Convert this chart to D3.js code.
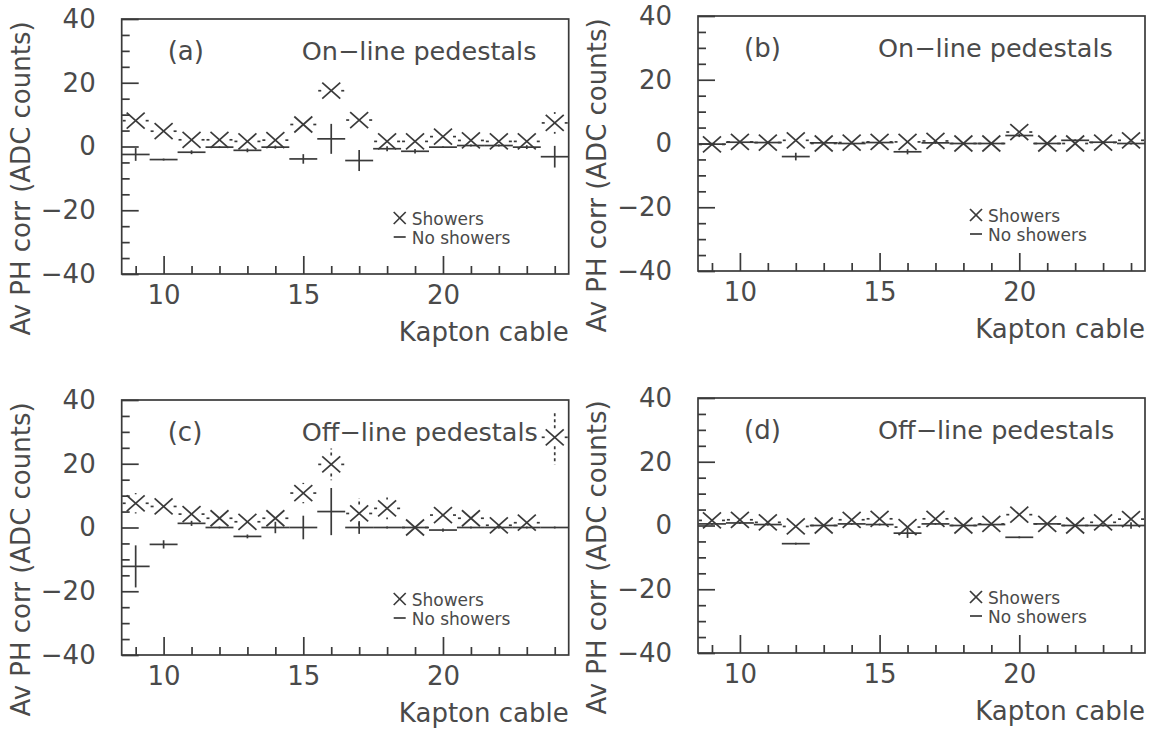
<!DOCTYPE html>
<html lang="en">
<head>
<meta charset="UTF-8">
<script src="https://cdn.jsdelivr.net/npm/d3@7"></script>
<title>Av PH corr vs Kapton cable</title>
<style>
	body { margin: 0; background: #fff; }
	svg { display: block; font-family: "DejaVu Sans", sans-serif; }
	.frame { fill: none; stroke: #3a3a3a; stroke-width: 1.7; }
	.axis line { stroke: #3a3a3a; stroke-width: 1.7; }
	.axis path { display: none; }
	.axis text { fill: #4a4a4a; font-size: 26px; font-family: "DejaVu Sans", sans-serif; }
	.mark { stroke: #3a3a3a; stroke-width: 1.7; fill: none; }
	.dash { stroke-dasharray: 3,3; }
	.lbl { fill: #4a4a4a; }
</style>
</head>
<body>
<div id="container"></div>
<script>
	const width = 1158,
		height = 731;

	// kapton cable numbers (x)
	const cables = [9, 10, 11, 12, 13, 14, 15, 16, 17, 18, 19, 20, 21, 22, 23, 24];

	// (a) on-line pedestals
	const showersA    = [8.1, 4.8, 2.1, 2.1, 1.6, 2.0, 6.9, 17.5, 8.3, 1.6, 1.6, 3.1, 1.9, 1.6, 1.6, 7.4];
	const showersErrA = [1.5, 1.5, 1.5, 1.5, 1.5, 1.5, 2.0, 2.8, 2.8, 1.5, 1.5, 1.5, 1.5, 1.5, 1.5, 3.4];
	const noShowA     = [-2.5, -4.1, -1.8, -0.2, -1.2, -0.2, -3.9, 2.4, -4.4, -0.7, -1.5, -0.2, 0.3, 0.3, -0.2, -3.2];
	const noShowErrA  = [2.0, 0.3, 0.6, 0.3, 0.6, 0.5, 1.5, 4.7, 3.3, 0.8, 0.7, 0.3, 0.3, 0.3, 0.6, 3.4];

	// (b) on-line pedestals
	const showersB    = [-0.3, 0.5, 0.3, 1.0, 0.0, 0.3, 0.5, 0.5, 0.8, 0.0, 0.0, 3.6, 0.0, 0.0, 0.3, 1.0];
	const showersErrB = [1.0, 1.0, 1.0, 1.0, 1.0, 1.0, 1.0, 1.0, 1.0, 1.0, 1.0, 1.0, 1.0, 1.0, 1.0, 1.0];
	const noShowB     = [-0.2, 0.4, 0.3, -4.1, 0.2, 0.0, 0.3, -2.6, 0.2, 0.0, 0.0, 2.5, 0.0, 1.0, 0.4, 0.0];
	const noShowErrB  = [0.4, 0.3, 0.3, 1.2, 0.3, 0.3, 0.3, 0.8, 0.3, 0.3, 0.3, 0.5, 0.3, 0.3, 0.3, 0.3];

	// (c) off-line pedestals
	const showersC    = [7.6, 6.6, 4.2, 2.9, 1.8, 2.9, 10.8, 19.8, 4.4, 6.0, 0.0, 3.9, 2.9, 0.7, 1.5, 28.3];
	const showersErrC = [3.2, 2.0, 2.0, 2.0, 2.0, 2.0, 3.2, 5.0, 4.8, 3.4, 1.0, 2.0, 1.5, 1.0, 1.5, 8.5];
	const noShowC     = [-12.2, -5.3, 1.3, 0.0, -2.8, 0.0, 0.0, 5.0, 0.0, 0.0, 0.0, -0.8, 0.0, 0.0, 0.0, 0.0];
	const noShowErrC  = [6.6, 1.3, 0.8, 0.3, 0.6, 1.8, 3.7, 7.4, 2.0, 0.3, 0.3, 0.5, 0.3, 0.3, 0.3, 0.3];

	// (d) off-line pedestals
	const showersD    = [1.6, 1.8, 1.0, -0.3, 0.0, 1.8, 2.1, -0.5, 2.1, 0.0, 0.5, 3.4, 0.5, 0.0, 1.0, 2.0];
	const showersErrD = [1.0, 1.0, 1.0, 1.0, 1.0, 1.0, 1.0, 1.0, 1.0, 1.0, 1.0, 1.0, 1.0, 1.0, 1.0, 1.0];
	const noShowD     = [0.5, 0.8, 0.3, -5.7, 0.0, 0.5, 0.3, -2.4, 0.5, 0.0, 0.3, -3.7, 0.5, 0.0, 0.0, 0.0];
	const noShowErrD  = [0.3, 0.3, 0.3, 0.3, 0.3, 0.3, 0.3, 1.5, 0.3, 0.3, 0.3, 0.3, 0.3, 0.3, 0.3, 1.0];

	const xMajor = [10, 15, 20];
	const yMajor = [-40, -20, 0, 20, 40];

	const panels = [
		{ tag: '(a)', title: 'On\u2212line pedestals', left: 121.7, top: 19, s: showersA, se: showersErrA, n: noShowA, ne: noShowErrA },
		{ tag: '(b)', title: 'On\u2212line pedestals', left: 698, top: 16, s: showersB, se: showersErrB, n: noShowB, ne: noShowErrB },
		{ tag: '(c)', title: 'Off\u2212line pedestals', left: 121.7, top: 400, s: showersC, se: showersErrC, n: noShowC, ne: noShowErrC },
		{ tag: '(d)', title: 'Off\u2212line pedestals', left: 698, top: 398, s: showersD, se: showersErrD, n: noShowD, ne: noShowErrD }
	];

	const pw = 447, ph = 255;
	const mx = 9, my = 8; // half size of the X marker

	const svg = d3.select('#container')
		.append('svg')
		.attr('width', width)
		.attr('height', height);

	panels.forEach(function(p) {
		const x = d3.scaleLinear().domain([8.5, 24.5]).range([0, pw]);
		const y = d3.scaleLinear().domain([-40, 40]).range([ph, 0]);

		const g = svg.append('g')
			.attr('transform', `translate(${p.left}, ${p.top})`);

		// minor ticks
		g.append('g').attr('class', 'axis')
			.call(d3.axisLeft(y).tickValues(d3.range(-35, 40, 5).filter(d => d % 20 !== 0)).tickSize(-8).tickFormat(''));
		g.append('g').attr('class', 'axis')
			.attr('transform', `translate(0, ${ph})`)
			.call(d3.axisBottom(x).tickValues(cables.filter(d => xMajor.indexOf(d) < 0)).tickSize(-8).tickFormat(''));

		// major ticks with labels
		g.append('g').attr('class', 'axis')
			.call(d3.axisLeft(y).tickValues(yMajor).tickSize(-17).tickPadding(26)
				.tickFormat(d => d < 0 ? '\u2212' + Math.abs(d) : d));
		g.append('g').attr('class', 'axis')
			.attr('transform', `translate(0, ${ph})`)
			.call(d3.axisBottom(x).tickValues(xMajor).tickSize(-18).tickPadding(12));

		g.append('rect').attr('class', 'frame')
			.attr('width', pw).attr('height', ph);

		// no showers: solid error crosses
		cables.forEach(function(c, i) {
			const v = p.n[i], e = p.ne[i];
			g.append('line').attr('class', 'mark')
				.attr('x1', x(c - 0.5)).attr('x2', x(c + 0.5))
				.attr('y1', y(v)).attr('y2', y(v));
			g.append('line').attr('class', 'mark')
				.attr('x1', x(c)).attr('x2', x(c))
				.attr('y1', y(v - e)).attr('y2', y(v + e));
		});

		// showers: X marker with dashed error bars
		cables.forEach(function(c, i) {
			const cx = x(c), cy = y(p.s[i]);
			const ey = y(p.s[i] - p.se[i]) - cy;
			g.append('line').attr('class', 'mark')
				.attr('x1', cx - mx).attr('y1', cy - my).attr('x2', cx + mx).attr('y2', cy + my);
			g.append('line').attr('class', 'mark')
				.attr('x1', cx - mx).attr('y1', cy + my).attr('x2', cx + mx).attr('y2', cy - my);
			g.append('line').attr('class', 'mark dash')
				.attr('x1', cx - mx - 1).attr('x2', x(c - 0.5)).attr('y1', cy).attr('y2', cy);
			g.append('line').attr('class', 'mark dash')
				.attr('x1', cx + mx + 1).attr('x2', x(c + 0.5)).attr('y1', cy).attr('y2', cy);
			if (ey > my + 1) {
				g.append('line').attr('class', 'mark dash')
					.attr('x1', cx).attr('x2', cx).attr('y1', cy - my - 1).attr('y2', cy - ey);
				g.append('line').attr('class', 'mark dash')
					.attr('x1', cx).attr('x2', cx).attr('y1', cy + my + 1).attr('y2', cy + ey);
			}
		});

		// labels
		g.append('text').attr('class', 'lbl')
			.attr('x', 46).attr('y', 41)
			.style('font-size', '26px')
			.text(p.tag);
		g.append('text').attr('class', 'lbl')
			.attr('x', 180).attr('y', 41)
			.style('font-size', '25.5px')
			.text(p.title);

		// legend
		const lx = 278, ly = 199;
		g.append('line').attr('class', 'mark')
			.attr('x1', lx - 6).attr('y1', ly - 6).attr('x2', lx + 6).attr('y2', ly + 6);
		g.append('line').attr('class', 'mark')
			.attr('x1', lx - 6).attr('y1', ly + 6).attr('x2', lx + 6).attr('y2', ly - 6);
		g.append('line').attr('class', 'mark')
			.attr('x1', lx - 6).attr('y1', ly + 19).attr('x2', lx + 6).attr('y2', ly + 19);
		g.append('text').attr('class', 'lbl')
			.attr('x', lx + 12).attr('y', ly + 7)
			.style('font-size', '17px')
			.text('Showers');
		g.append('text').attr('class', 'lbl')
			.attr('x', lx + 12).attr('y', ly + 26)
			.style('font-size', '17px')
			.text('No showers');

		// axis titles
		g.append('text').attr('class', 'lbl')
			.attr('x', pw).attr('y', ph + 67)
			.attr('text-anchor', 'end')
			.style('font-size', '26px')
			.text('Kapton cable');
		g.append('text').attr('class', 'lbl')
			.attr('transform', `translate(-92, ${ph / 2 + 32}) rotate(-90)`)
			.attr('text-anchor', 'middle')
			.style('font-size', '26px')
			.text('Av PH corr (ADC counts)');
	});
</script>
</body>
</html>
